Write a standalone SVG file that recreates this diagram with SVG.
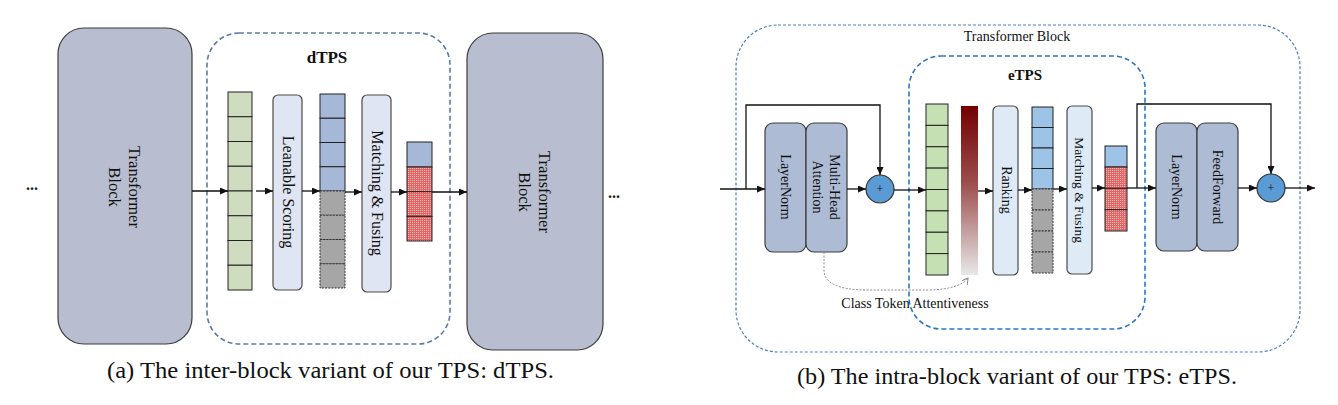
<svg xmlns="http://www.w3.org/2000/svg" width="1338" height="405" viewBox="0 0 1338 405">
<style>
.t{font-family:"Liberation Serif","Times New Roman",serif;fill:#111}
.v{font-family:"Liberation Serif","Times New Roman",serif;fill:#111;text-anchor:middle;dominant-baseline:central}
.tb{fill:#b8bdcf;stroke:#3c3c3c;stroke-width:1.2}
.box{fill:#dfe5f2;stroke:#4a4a4a;stroke-width:1.2}
.box2{fill:#deebf7;stroke:#4a4a4a;stroke-width:1.2}
.ln{fill:#adbcd4;stroke:#3c3c3c;stroke-width:1.2}
.g1{fill:#cfdcbf;stroke:#222;stroke-width:1}
.g2{fill:#c5e0b3;stroke:#222;stroke-width:1}
.b1{fill:#a5b8d8;stroke:#222;stroke-width:1}
.b2{fill:#9dc3e6;stroke:#222;stroke-width:1}
.gr{fill:#a6a6a6;stroke:#333;stroke-width:1;stroke-dasharray:2 1.2}
.rd{fill:url(#red);stroke:#222;stroke-width:1}
.c{fill:none;stroke:#111;stroke-width:1.3}
.ca{fill:none;stroke:#111;stroke-width:1.3;marker-end:url(#ah)}
.plus{fill:#5b9bd5;stroke:#333;stroke-width:1.2}
</style>
<defs>
<marker id="ah" markerWidth="8" markerHeight="7" refX="8" refY="3.5" orient="auto" markerUnits="userSpaceOnUse">
<path d="M0,0 L8,3.5 L0,7 z" fill="#111"/>
</marker>
<marker id="oa" markerWidth="7" markerHeight="7" refX="6" refY="3.5" orient="auto" markerUnits="userSpaceOnUse">
<path d="M0,0 L6,3.5 L0,7" fill="none" stroke="#888" stroke-width="1"/>
</marker>
<pattern id="red" width="2" height="2" patternUnits="userSpaceOnUse">
<rect width="2" height="2" fill="#e46464"/>
<rect width="1" height="1" fill="#f6b8b8"/>
</pattern>
<linearGradient id="att" x1="0" y1="0" x2="0" y2="1">
<stop offset="0" stop-color="#720000"/>
<stop offset="0.45" stop-color="#9c4c4c"/>
<stop offset="1" stop-color="#e8e8e8"/>
</linearGradient>
</defs>

<!-- ===== Panel (a) ===== -->
<g id="dots-left"><text class="t" x="32" y="190" font-size="16" font-weight="bold" text-anchor="middle">...</text></g>
<g id="tb-left">
<rect class="tb" x="58" y="28" width="134" height="316" rx="26"/>
<text class="v" font-size="16.5" transform="translate(134,187) rotate(90)">Transformer</text>
<text class="v" font-size="16.5" transform="translate(114,187) rotate(90)">Block</text>
</g>
<g id="dtps">
<rect x="207" y="33" width="243" height="311" rx="32" fill="none" stroke="#5b7ca8" stroke-width="1.6" stroke-dasharray="5 3"/>
<text class="t" x="327" y="63" font-size="17" font-weight="bold" text-anchor="middle">dTPS</text>
</g>
<g id="tokens-a">
<rect class="g1" x="228" y="92" width="24" height="24.75"/>
<rect class="g1" x="228" y="116.75" width="24" height="24.75"/>
<rect class="g1" x="228" y="141.5" width="24" height="24.75"/>
<rect class="g1" x="228" y="166.25" width="24" height="24.75"/>
<rect class="g1" x="228" y="191" width="24" height="24.75"/>
<rect class="g1" x="228" y="215.75" width="24" height="24.75"/>
<rect class="g1" x="228" y="240.5" width="24" height="24.75"/>
<rect class="g1" x="228" y="265.25" width="24" height="24.75"/>
</g>
<g id="leanable-scoring">
<rect class="box" x="273" y="95" width="29" height="195" rx="5"/>
<text class="v" font-size="16" transform="translate(288,192) rotate(90)">Leanable Scoring</text>
</g>
<g id="scored-a">
<rect class="b1" x="320" y="94" width="25" height="24.25"/>
<rect class="b1" x="320" y="118.25" width="25" height="24.25"/>
<rect class="b1" x="320" y="142.5" width="25" height="24.25"/>
<rect class="b1" x="320" y="166.75" width="25" height="24.25"/>
<rect class="gr" x="320" y="191" width="25" height="24.25"/>
<rect class="gr" x="320" y="215.25" width="25" height="24.25"/>
<rect class="gr" x="320" y="239.5" width="25" height="24.25"/>
<rect class="gr" x="320" y="263.75" width="25" height="24.25"/>
</g>
<g id="matching-a">
<rect class="box" x="362" y="95" width="29" height="197" rx="5"/>
<text class="v" font-size="16" transform="translate(377,193) rotate(90)">Matching &amp; Fusing</text>
</g>
<g id="out-a">
<rect class="b1" x="407" y="142" width="25" height="25"/>
<rect class="rd" x="407" y="167" width="25" height="24.67"/>
<rect class="rd" x="407" y="191.67" width="25" height="24.67"/>
<rect class="rd" x="407" y="216.33" width="25" height="24.67"/>
</g>
<g id="tb-right">
<rect class="tb" x="467" y="33" width="136" height="317" rx="26"/>
<text class="v" font-size="16.5" transform="translate(544,192) rotate(90)">Transformer</text>
<text class="v" font-size="16.5" transform="translate(524,192) rotate(90)">Block</text>
</g>
<g id="dots-right"><text class="t" x="614" y="198" font-size="16" font-weight="bold" text-anchor="middle">...</text></g>

<!-- ===== Panel (b) ===== -->
<g id="transformer-block">
<rect x="736" y="25" width="564" height="327" rx="42" fill="none" stroke="#4a80c0" stroke-width="1.2" stroke-dasharray="3 2"/>
<text class="t" x="1017" y="41" font-size="14" text-anchor="middle">Transformer Block</text>
</g>
<g id="etps">
<rect x="909" y="56" width="236" height="273" rx="32" fill="none" stroke="#2f75c0" stroke-width="1.6" stroke-dasharray="5 3"/>
<text class="t" x="1025" y="80" font-size="15" font-weight="bold" text-anchor="middle">eTPS</text>
</g>
<g id="layernorm-1">
<rect class="ln" x="765" y="123" width="41" height="129" rx="8"/>
<text class="v" font-size="14" transform="translate(785,187) rotate(90)">LayerNorm</text>
</g>
<g id="mha">
<rect class="ln" x="806" y="123" width="41" height="129" rx="8"/>
<text class="v" font-size="14" transform="translate(834,187) rotate(90)">Multi-Head</text>
<text class="v" font-size="14" transform="translate(817,187) rotate(90)">Attention</text>
</g>
<g id="add-1">
<circle class="plus" cx="880" cy="189" r="14"/>
<text class="t" x="880" y="193" font-size="12" text-anchor="middle">+</text>
</g>
<g id="tokens-b">
<rect class="g2" x="926" y="104" width="22" height="21.375"/>
<rect class="g2" x="926" y="125.375" width="22" height="21.375"/>
<rect class="g2" x="926" y="146.75" width="22" height="21.375"/>
<rect class="g2" x="926" y="168.125" width="22" height="21.375"/>
<rect class="g2" x="926" y="189.5" width="22" height="21.375"/>
<rect class="g2" x="926" y="210.875" width="22" height="21.375"/>
<rect class="g2" x="926" y="232.25" width="22" height="21.375"/>
<rect class="g2" x="926" y="253.625" width="22" height="21.375"/>
</g>
<g id="attentiveness-bar">
<rect x="961" y="106" width="17" height="169" fill="url(#att)"/>
</g>
<g id="ranking">
<rect class="box2" x="993" y="106" width="25" height="169" rx="5"/>
<text class="v" font-size="14" transform="translate(1006,190) rotate(90)">Ranking</text>
</g>
<g id="scored-b">
<rect class="b2" x="1032" y="107" width="21" height="20.5"/>
<rect class="b2" x="1032" y="127.5" width="21" height="20.5"/>
<rect class="b2" x="1032" y="148" width="21" height="20.5"/>
<rect class="b2" x="1032" y="168.5" width="21" height="20.5"/>
<rect class="gr" x="1032" y="189" width="21" height="21"/>
<rect class="gr" x="1032" y="210" width="21" height="21"/>
<rect class="gr" x="1032" y="231" width="21" height="21"/>
<rect class="gr" x="1032" y="252" width="21" height="21"/>
</g>
<g id="matching-b">
<rect class="box2" x="1067" y="106" width="25" height="168" rx="5"/>
<text class="v" font-size="13.5" transform="translate(1079,190) rotate(90)">Matching &amp; Fusing</text>
</g>
<g id="out-b">
<rect class="b2" x="1105" y="146" width="22" height="21"/>
<rect class="rd" x="1105" y="167" width="22" height="21.33"/>
<rect class="rd" x="1105" y="188.33" width="22" height="21.33"/>
<rect class="rd" x="1105" y="209.67" width="22" height="21.33"/>
</g>
<g id="layernorm-2">
<rect class="ln" x="1156" y="123" width="41" height="128" rx="8"/>
<text class="v" font-size="14" transform="translate(1176,187) rotate(90)">LayerNorm</text>
</g>
<g id="feedforward">
<rect class="ln" x="1197" y="123" width="41" height="128" rx="8"/>
<text class="v" font-size="14" transform="translate(1217,187) rotate(90)">FeedForward</text>
</g>
<g id="add-2">
<circle class="plus" cx="1271" cy="188" r="14"/>
<text class="t" x="1271" y="192" font-size="12" text-anchor="middle">+</text>
</g>
<g id="cls-label">
<text class="t" x="915" y="308" font-size="14" text-anchor="middle">Class Token Attentiveness</text>
</g>

<!-- ===== Connectors ===== -->
<g id="connectors">
<line class="ca" x1="192" y1="191" x2="228" y2="191"/>
<line class="ca" x1="256" y1="191" x2="273" y2="191"/>
<line class="ca" x1="302" y1="191" x2="320" y2="191"/>
<line class="ca" x1="345" y1="192" x2="362" y2="192"/>
<line class="ca" x1="391" y1="192" x2="407" y2="192"/>
<line class="ca" x1="432" y1="192" x2="467" y2="192"/>

<line class="ca" x1="720" y1="189" x2="765" y2="189"/>
<path class="ca" d="M746,189 V105 H880 V175"/>
<line class="ca" x1="847" y1="189" x2="866" y2="189"/>
<line class="ca" x1="894" y1="190" x2="926" y2="190"/>
<line class="ca" x1="978" y1="191" x2="993" y2="191"/>
<line class="ca" x1="1018" y1="190" x2="1032" y2="190"/>
<line class="ca" x1="1053" y1="189" x2="1067" y2="189"/>
<line class="ca" x1="1092" y1="188" x2="1105" y2="188"/>
<line class="ca" x1="1127" y1="188" x2="1156" y2="188"/>
<path class="ca" d="M1137,188 V104 H1271 V174"/>
<line class="ca" x1="1238" y1="188" x2="1257" y2="188"/>
<line class="ca" x1="1285" y1="188" x2="1315" y2="188"/>
<path d="M824,252 V270 Q824,290 868,290 L930,290 Q960,289 968,278" fill="none" stroke="#888" stroke-width="1" stroke-dasharray="2 1.5" marker-end="url(#oa)"/>
</g>

<!-- ===== Captions ===== -->
<g id="captions">
<text class="t" x="107" y="378" font-size="22.5" textLength="447" lengthAdjust="spacingAndGlyphs">(a) The inter-block variant of our TPS: dTPS.</text>
<text class="t" x="797" y="384" font-size="22.5" textLength="440" lengthAdjust="spacingAndGlyphs">(b) The intra-block variant of our TPS: eTPS.</text>
</g>
</svg>
